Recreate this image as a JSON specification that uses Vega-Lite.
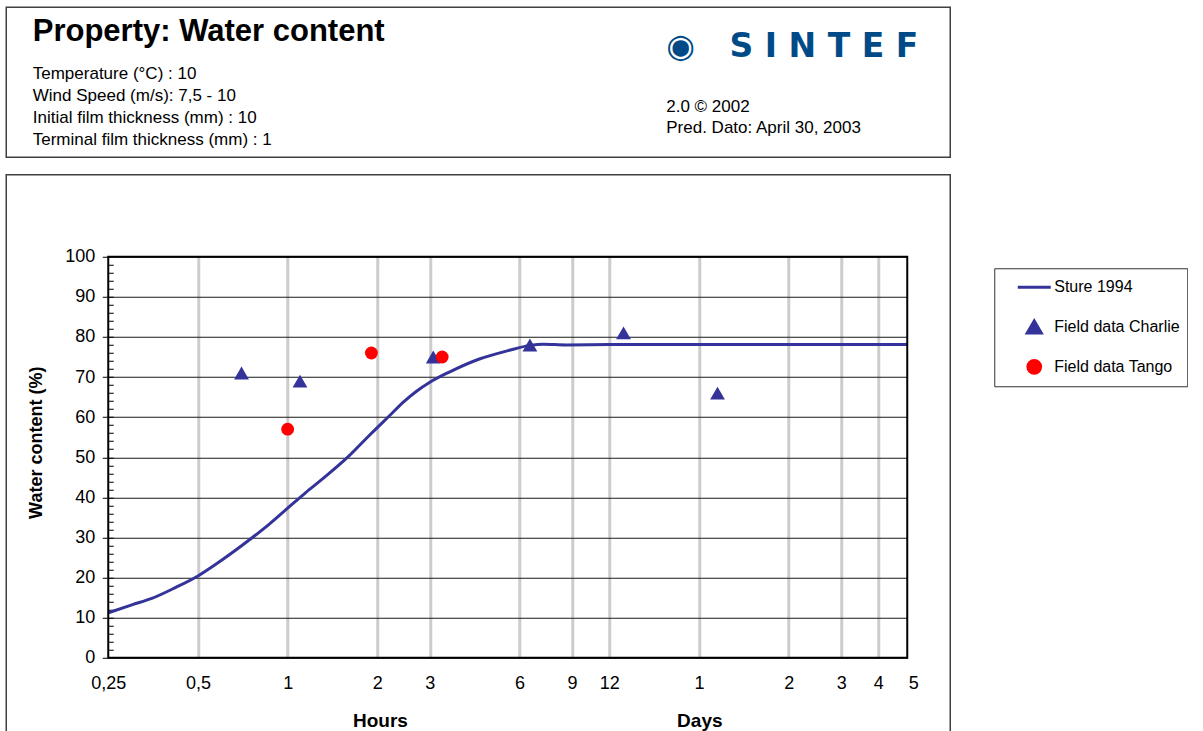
{
  "$schema": "https://vega.github.io/schema/vega-lite/v6.json",
  "background": "white",
  "padding": {"left": 5.25, "top": 6.25, "right": 0, "bottom": 0},
  "config": {
    "font": "Liberation Sans",
    "view": {"stroke": "#404040", "strokeWidth": 1.5}
  },
  "title": {
    "text": "\u25c9\u00a0\u00a0\u00a0S I N T E F",
    "subtitle": ["2.0 \u00a9 2002", "Pred. Dato: April 30, 2003"],
    "anchor": "start",
    "frame": "group",
    "orient": "top",
    "offset": -129.75,
    "dx": 660,
    "font": "DejaVu Sans",
    "fontSize": 33,
    "fontWeight": "bold",
    "color": "#004b87",
    "subtitleFont": "Liberation Sans",
    "subtitleFontSize": 17,
    "subtitleColor": "black",
    "subtitlePadding": 35,
    "subtitleLineHeight": 21
  },
  "spacing": 15.5,
  "datasets": {
    "curve": [
      {"h": 0.25, "v": 11.2}, {"h": 0.3, "v": 13.2}, {"h": 0.35, "v": 14.8},
      {"h": 0.42, "v": 17.5}, {"h": 0.5, "v": 20.4}, {"h": 0.6, "v": 24.3},
      {"h": 0.75, "v": 29.6}, {"h": 0.87, "v": 33.4}, {"h": 1.0, "v": 37.3},
      {"h": 1.15, "v": 41.2}, {"h": 1.3, "v": 44.4}, {"h": 1.6, "v": 50.2},
      {"h": 1.9, "v": 55.8}, {"h": 2.2, "v": 60.4}, {"h": 2.45, "v": 63.8},
      {"h": 2.7, "v": 66.4}, {"h": 3.0, "v": 68.7}, {"h": 3.5, "v": 71.3},
      {"h": 4.4, "v": 74.5}, {"h": 5.5, "v": 76.6}, {"h": 6.5, "v": 77.9},
      {"h": 7.2, "v": 78.2}, {"h": 8.6, "v": 78.0}, {"h": 12, "v": 78.1},
      {"h": 24, "v": 78.1}, {"h": 120, "v": 78.1}
    ],
    "obs": [
      {"series": "Field data Charlie", "h": 0.7, "v": 71},
      {"series": "Field data Charlie", "h": 1.1, "v": 69},
      {"series": "Field data Charlie", "h": 3.08, "v": 75},
      {"series": "Field data Charlie", "h": 6.5, "v": 78},
      {"series": "Field data Charlie", "h": 13.4, "v": 81},
      {"series": "Field data Charlie", "h": 27.7, "v": 66},
      {"series": "Field data Tango", "h": 1.0, "v": 57},
      {"series": "Field data Tango", "h": 1.91, "v": 76},
      {"series": "Field data Tango", "h": 3.3, "v": 75}
    ]
  },
  "vconcat": [
    {
      "width": 944,
      "height": 150,
      "view": {"stroke": "#404040", "strokeWidth": 1.5},
      "title": {
        "text": "Property: Water content",
        "subtitle": ["Temperature (\u00b0C) : 10", "Wind Speed (m/s): 7,5 - 10", "Initial film thickness (mm) : 10", "Terminal film thickness (mm) : 1"],
        "anchor": "start",
        "frame": "group",
        "orient": "top",
        "offset": -141.5,
        "dx": 26.5,
        "font": "Liberation Sans",
        "fontSize": 31,
        "fontWeight": "bold",
        "color": "black",
        "subtitleFont": "Liberation Sans",
        "subtitleFontSize": 17,
        "subtitleColor": "black",
        "subtitlePadding": 17.5,
        "subtitleLineHeight": 22
      },
      "layer": [
        {
          "data": {"values": [{}]},
          "mark": {"type": "text", "text": ""}
        }
      ]
    },
    {
      "width": 944,
      "height": 565,
      "resolve": {"axis": {"y": "independent"}},
      "layer": [
        {
          "data": {"name": "curve"},
          "mark": {"type": "line", "strokeWidth": 3, "interpolate": "monotone"},
          "encoding": {
            "x": {
              "field": "h",
              "type": "quantitative",
              "scale": {"type": "log", "domain": [0.25, 120], "range": [102, 901], "nice": false},
              "axis": {
                "orient": "bottom",
                "offset": -82,
                "values": [0.25, 0.5, 1, 2, 3, 6, 9, 12, 24, 48, 72, 96, 120],
                "labelExpr": "datum.value >= 24 ? '' + (datum.value / 24) : replace('' + datum.value, '.', ',')",
                "domain": false,
                "ticks": false,
                "tickSize": 0,
                "labelPadding": 17,
                "labelFontSize": 18,
                "labelColor": "black",
                "labelFlush": false,
                "labelOverlap": false,
                "labelOffset": {"condition": {"test": "datum.value == 120", "value": 6}, "value": 0},
                "grid": true,
                "gridColor": {"condition": {"test": "datum.value == 0.25 || datum.value == 120", "value": "transparent"}, "value": "#cccccc"},
                "gridWidth": 3,
                "title": "Hours\u00a0\u00a0\u00a0\u00a0\u00a0\u00a0\u00a0\u00a0\u00a0\u00a0\u00a0\u00a0\u00a0\u00a0\u00a0\u00a0\u00a0\u00a0\u00a0\u00a0\u00a0\u00a0\u00a0\u00a0\u00a0\u00a0\u00a0\u00a0\u00a0\u00a0\u00a0\u00a0\u00a0\u00a0\u00a0\u00a0\u00a0\u00a0\u00a0\u00a0\u00a0\u00a0\u00a0\u00a0\u00a0\u00a0\u00a0\u00a0\u00a0\u00a0\u00a0Days",
                "titleFontSize": 19,
                "titleFontWeight": "bold",
                "titleColor": "black",
                "titleX": 531,
                "titleY": 63,
                "titleAlign": "center",
                "titleBaseline": "middle"
              }
            },
            "y": {
              "field": "v",
              "type": "quantitative",
              "scale": {"domain": [0, 100], "range": [483, 82], "nice": false, "zero": false},
              "axis": {
                "orient": "left",
                "offset": -102,
                "values": [0, 10, 20, 30, 40, 50, 60, 70, 80, 90, 100],
                "domain": false,
                "ticks": true,
                "tickSize": 6,
                "tickColor": "black",
                "tickWidth": 1,
                "labelPadding": 7.5,
                "labelFontSize": 18,
                "labelColor": "black",
                "labelFlush": false,
                "labelOverlap": false,
                "grid": true,
                "gridColor": "#1a1a1a",
                "gridWidth": 1,
                "title": "Water content (%)",
                "titleFontSize": 18,
                "titleFontWeight": "bold",
                "titleColor": "black",
                "titleX": -71.5,
                "titleY": 267.5,
                "titleAngle": -90,
                "titleAlign": "center",
                "titleBaseline": "middle"
              }
            },
            "color": {
              "datum": "Sture 1994",
              "scale": {"domain": ["Sture 1994", "Field data Charlie", "Field data Tango"], "range": ["#333399", "#333399", "#ff0000"]},
              "legend": {
                "title": null,
                "orient": "none",
                "legendX": 988,
                "legendY": 261,
                "padding": 7,
                "symbolOffset": 21,
                "labelOffset": 8,
                "rowPadding": 13.8,
                "labelFontSize": 16,
                "labelColor": "black",
                "labelLimit": 300,
                "labelExpr": "datum.label + '\u00a0\u00a0\u00a0\u00a0'",
                "strokeColor": "#333333",
                "fillColor": "white",
                "symbolSize": 441,
                "symbolStrokeWidth": 3,
                "symbolOpacity": 1,
                "encode": {
                  "symbols": {
                    "update": {
                      "shape": {"signal": "datum.value === 'Sture 1994' ? 'M-1.571,0L1.571,0M0,0.605' : datum.value === 'Field data Charlie' ? 'M0,-0.577L0.667,0.577L-0.667,0.577ZM0,0.605' : 'M0.605,0A0.605,0.605,0,1,1,-0.605,0A0.605,0.605,0,1,1,0.605,0Z'"},
                      "size": {"value": 441},
                      "stroke": {"signal": "datum.value === 'Sture 1994' ? '#333399' : 'transparent'"},
                      "strokeWidth": {"value": 3},
                      "fill": {"signal": "datum.value === 'Sture 1994' ? 'transparent' : datum.value === 'Field data Charlie' ? '#333399' : '#ff0000'"},
                      "opacity": {"value": 1}
                    }
                  }
                }
              }
            }
          }
        },
        {
          "data": {"name": "obs"},
          "mark": {"type": "point", "filled": true, "opacity": 1},
          "encoding": {
            "x": {"field": "h", "type": "quantitative"},
            "y": {
              "field": "v",
              "type": "quantitative",
              "axis": {
                "orient": "left",
                "offset": -102,
                "values": [2, 4, 6, 8, 10, 12, 14, 16, 18, 20, 22, 24, 26, 28, 30, 32, 34, 36, 38, 40, 42, 44, 46, 48, 50, 52, 54, 56, 58, 60, 62, 64, 66, 68, 70, 72, 74, 76, 78, 80, 82, 84, 86, 88, 90, 92, 94, 96, 98],
                "labels": false,
                "domain": false,
                "grid": false,
                "ticks": true,
                "tickSize": -5,
                "tickColor": "black",
                "tickWidth": 1,
                "title": null
              }
            },
            "color": {
              "field": "series",
              "type": "nominal",
              "legend": {
                "title": null,
                "orient": "none",
                "legendX": 988,
                "legendY": 261,
                "padding": 7,
                "symbolOffset": 21,
                "labelOffset": 8,
                "rowPadding": 13.8,
                "labelFontSize": 16,
                "labelColor": "black",
                "labelLimit": 300,
                "labelExpr": "datum.label + '\u00a0\u00a0\u00a0\u00a0'",
                "strokeColor": "#333333",
                "fillColor": "white",
                "symbolSize": 441,
                "symbolStrokeWidth": 3,
                "symbolOpacity": 1,
                "encode": {
                  "symbols": {
                    "update": {
                      "shape": {"signal": "datum.value === 'Sture 1994' ? 'M-1.571,0L1.571,0M0,0.605' : datum.value === 'Field data Charlie' ? 'M0,-0.577L0.667,0.577L-0.667,0.577ZM0,0.605' : 'M0.605,0A0.605,0.605,0,1,1,-0.605,0A0.605,0.605,0,1,1,0.605,0Z'"},
                      "size": {"value": 441},
                      "stroke": {"signal": "datum.value === 'Sture 1994' ? '#333399' : 'transparent'"},
                      "strokeWidth": {"value": 3},
                      "fill": {"signal": "datum.value === 'Sture 1994' ? 'transparent' : datum.value === 'Field data Charlie' ? '#333399' : '#ff0000'"},
                      "opacity": {"value": 1}
                    }
                  }
                }
              }
            },
            "shape": {
              "field": "series",
              "type": "nominal",
              "scale": {"domain": ["Field data Charlie", "Field data Tango"], "range": ["triangle-up", "circle"]},
              "legend": null
            },
            "size": {
              "field": "series",
              "type": "nominal",
              "scale": {"domain": ["Field data Charlie", "Field data Tango"], "range": [220, 165]},
              "legend": null
            }
          }
        },
        {
          "data": {"values": [{}]},
          "mark": {"type": "rect", "fill": "transparent", "stroke": "black", "strokeWidth": 2},
          "encoding": {
            "x": {"datum": 0.25},
            "x2": {"datum": 120},
            "y": {"datum": 0, "axis": null},
            "y2": {"datum": 100}
          }
        }
      ]
    }
  ]
}
